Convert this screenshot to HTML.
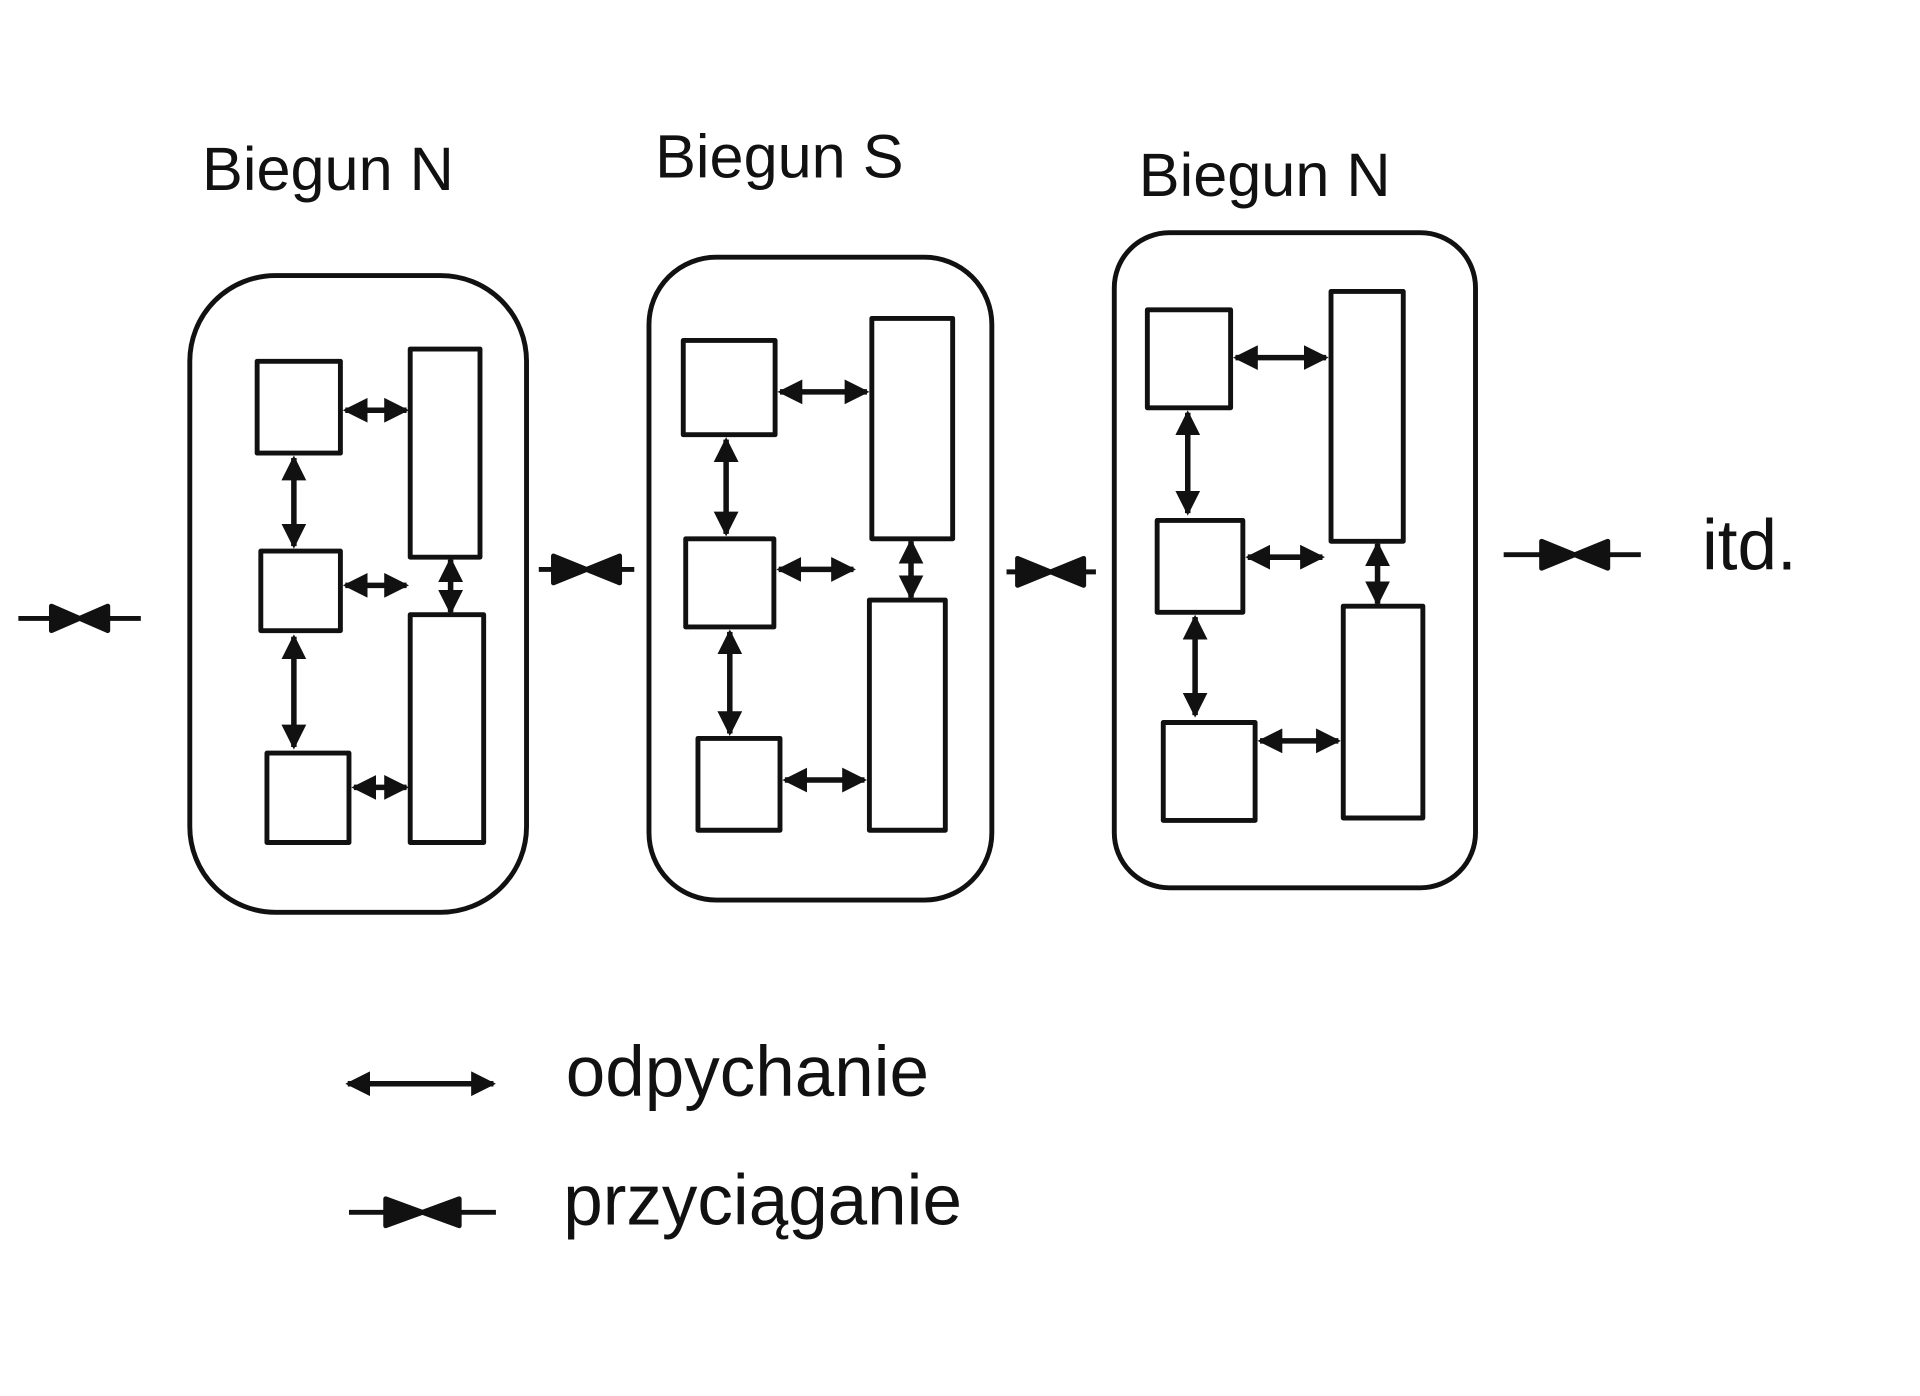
<!DOCTYPE html>
<html><head><meta charset="utf-8"><style>
html,body{margin:0;padding:0;background:#fff;width:1920px;height:1396px;overflow:hidden}
svg{display:block}
text{font-family:"Liberation Sans",sans-serif;fill:#111}
</style></head><body>
<svg width="1920" height="1396" viewBox="0 0 1568 1140" xmlns="http://www.w3.org/2000/svg">
<defs>
<marker id="a" viewBox="0 0 10 10" refX="9" refY="5" markerWidth="4.5" markerHeight="4.5" orient="auto-start-reverse">
<path d="M0,0 L10,5 L0,10 z" fill="#111"/></marker>
</defs>
<g fill="none" stroke="#111" stroke-width="4" stroke-linejoin="round">
<rect x="155" y="225" width="275" height="520" rx="70"/>
<rect x="530" y="210" width="280" height="525" rx="55"/>
<rect x="910" y="190" width="295" height="535" rx="45"/>
<rect x="210" y="295" width="68" height="75"/>
<rect x="213" y="450" width="65" height="65"/>
<rect x="218" y="615" width="67" height="73"/>
<rect x="335" y="285" width="57" height="170"/>
<rect x="335" y="502" width="60" height="186"/>
<rect x="558" y="278" width="75" height="77"/>
<rect x="560" y="440" width="72" height="72"/>
<rect x="570" y="603" width="67" height="75"/>
<rect x="712" y="260" width="66" height="180"/>
<rect x="710" y="490" width="62" height="188"/>
<rect x="937" y="253" width="68" height="80"/>
<rect x="945" y="425" width="70" height="75"/>
<rect x="950" y="590" width="75" height="80"/>
<rect x="1087" y="238" width="59" height="204"/>
<rect x="1097" y="495" width="65" height="173"/>
</g>
<g stroke="#111" stroke-width="4.5" marker-start="url(#a)" marker-end="url(#a)">
<line x1="282" y1="335" x2="332" y2="335"/>
<line x1="282" y1="478" x2="332" y2="478"/>
<line x1="289" y1="643" x2="332" y2="643"/>
<line x1="240" y1="374" x2="240" y2="446"/>
<line x1="240" y1="520" x2="240" y2="610"/>
<line x1="368" y1="457" x2="368" y2="500"/>
<line x1="637" y1="320" x2="708" y2="320"/>
<line x1="636" y1="465" x2="697" y2="465"/>
<line x1="641" y1="637" x2="706" y2="637"/>
<line x1="593" y1="359" x2="593" y2="436"/>
<line x1="596" y1="516" x2="596" y2="599"/>
<line x1="744" y1="442" x2="744" y2="488"/>
<line x1="1009" y1="292" x2="1083" y2="292"/>
<line x1="1019" y1="455" x2="1080" y2="455"/>
<line x1="1029" y1="605" x2="1093" y2="605"/>
<line x1="970" y1="337" x2="970" y2="419"/>
<line x1="976" y1="504" x2="976" y2="584"/>
<line x1="1125" y1="444" x2="1125" y2="493"/>
<line x1="284" y1="885" x2="403" y2="885"/>
</g>
<g stroke="#111" stroke-width="4" fill="#111" stroke-linejoin="round">
<line x1="15" y1="505" x2="115" y2="505"/>
<path d="M42,495 L65,505 L42,515 z M88,495 L65,505 L88,515 z"/>
<line x1="440" y1="465" x2="518" y2="465"/>
<path d="M452,454 L479,465 L452,476 z M506,454 L479,465 L506,476 z"/>
<line x1="822" y1="467" x2="895" y2="467"/>
<path d="M831,456 L858,467 L831,478 z M885,456 L858,467 L885,478 z"/>
<line x1="1228" y1="453" x2="1340" y2="453"/>
<path d="M1259,442 L1286,453 L1259,464 z M1313,442 L1286,453 L1313,464 z"/>
<line x1="285" y1="990" x2="405" y2="990"/>
<path d="M315,979 L345,990 L315,1001 z M375,979 L345,990 L375,1001 z"/>
</g>
<text x="165" y="155" font-size="50">Biegun N</text>
<text x="535" y="145" font-size="50">Biegun S</text>
<text x="930" y="160" font-size="50">Biegun N</text>
<text x="1390" y="465" font-size="58">itd.</text>
<text x="462" y="895" font-size="58">odpychanie</text>
<text x="460" y="1000" font-size="58">przyciąganie</text>
</svg>
</body></html>
